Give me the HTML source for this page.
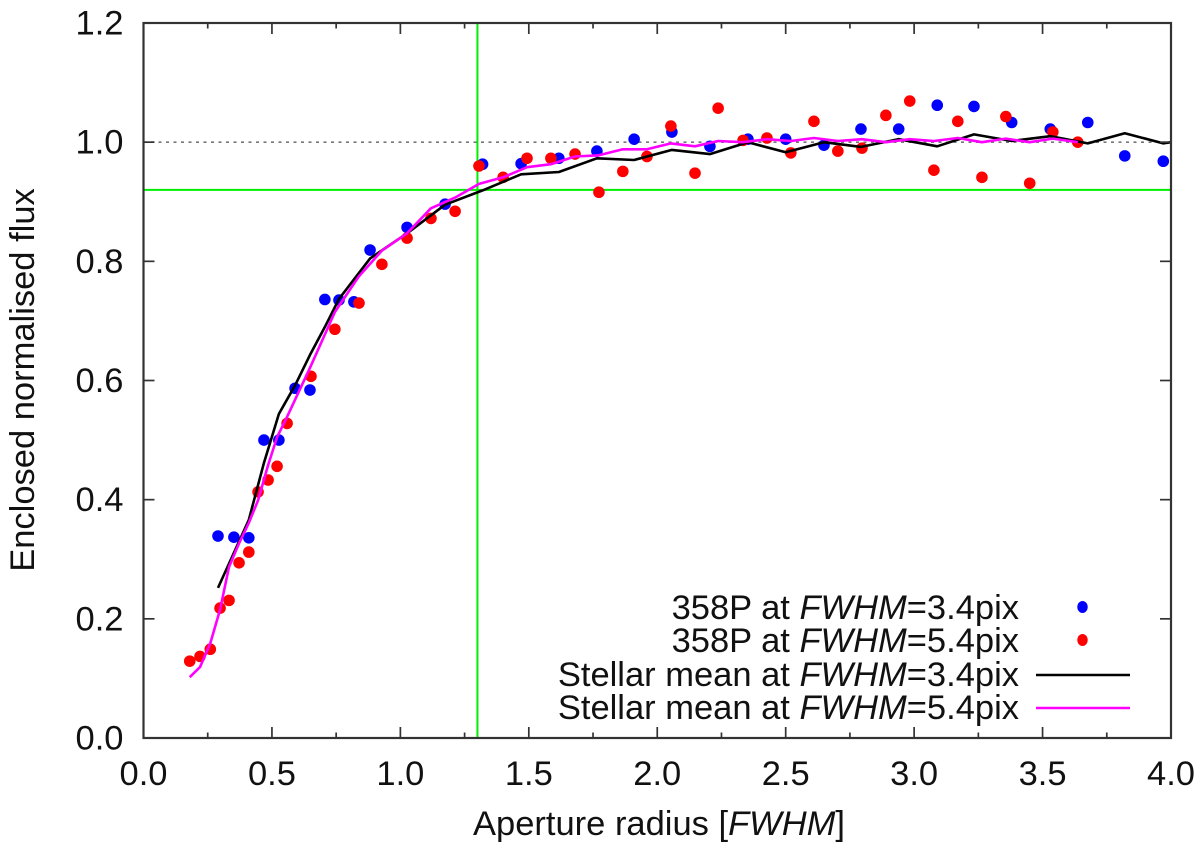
<!DOCTYPE html>
<html lang="en">
<head>
<meta charset="utf-8">
<title>Enclosed normalised flux</title>
<style>
html,body{margin:0;padding:0;background:#fff;width:1200px;height:848px;overflow:hidden}
svg{display:block}
text{font-family:"Liberation Sans",Arial,sans-serif;fill:#111}
</style>
</head>
<body>
<svg id="chart" xmlns="http://www.w3.org/2000/svg" width="1200" height="848" viewBox="0 0 1200 848">
  <rect width="1200" height="848" fill="#fff"/>
  <g id="guides"></g>
  <g id="series"></g>
  <g id="axes"></g>
  <text font-size="34.5" text-anchor="middle" transform="translate(34,380) rotate(-90)">Enclosed normalised flux</text>
  <text font-size="34.5" text-anchor="middle" transform="translate(659,835)">Aperture radius [<tspan font-style="italic">FWHM</tspan>]</text>
  <g>
    <g>
      <text font-size="34.5" text-anchor="end" transform="translate(1019,619)">358P at <tspan font-style="italic">FWHM</tspan>=3.4pix</text>
      <ellipse cx="1082.5" cy="607" rx="5.2" ry="6" fill="#0000ff"/>
    </g>
    <g>
      <text font-size="34.5" text-anchor="end" transform="translate(1019,652)">358P at <tspan font-style="italic">FWHM</tspan>=5.4pix</text>
      <ellipse cx="1082.5" cy="640" rx="5.2" ry="6" fill="#ff0000"/>
    </g>
    <g>
      <text font-size="34.5" text-anchor="end" transform="translate(1019,686)">Stellar mean at <tspan font-style="italic">FWHM</tspan>=3.4pix</text>
      <line x1="1036" x2="1130" y1="675" y2="675" stroke="#000" stroke-width="2.6"/>
    </g>
    <g>
      <text font-size="34.5" text-anchor="end" transform="translate(1019,719)">Stellar mean at <tspan font-style="italic">FWHM</tspan>=5.4pix</text>
      <line x1="1036" x2="1130" y1="708" y2="708" stroke="#ff00ff" stroke-width="2.6"/>
    </g>
  </g>
</svg>
<script>
const xTickLabels = ["0.0","0.5","1.0","1.5","2.0","2.5","3.0","3.5","4.0"];
const xTickValues = [0,0.5,1,1.5,2,2.5,3,3.5,4];
const xMinorValues = [0.25,0.75,1.25,1.75,2.25,2.75,3.25,3.75];
const yTickLabels = ["0.0","0.2","0.4","0.6","0.8","1.0","1.2"];
const yTickValues = [0,0.2,0.4,0.6,0.8,1,1.2];

const blueX = [0.29,0.352,0.41,0.469,0.527,0.59,0.648,0.706,0.761,0.819,0.882,1.026,1.174,1.32,1.47,1.617,1.765,1.91,2.057,2.205,2.353,2.5,2.649,2.793,2.94,3.09,3.233,3.38,3.53,3.676,3.82,3.97];
const blueY = [0.339,0.337,0.336,0.5,0.5,0.587,0.584,0.736,0.735,0.732,0.819,0.857,0.896,0.963,0.964,0.973,0.985,1.005,1.017,0.993,1.005,1.005,0.995,1.022,1.022,1.062,1.06,1.033,1.022,1.033,0.977,0.968];

const redX = [0.18,0.22,0.26,0.298,0.333,0.372,0.41,0.446,0.485,0.52,0.559,0.652,0.745,0.839,0.928,1.026,1.119,1.213,1.306,1.4,1.493,1.586,1.68,1.773,1.866,1.96,2.053,2.147,2.237,2.334,2.427,2.52,2.61,2.703,2.797,2.89,2.983,3.077,3.17,3.264,3.357,3.45,3.54,3.637];
const redY = [0.129,0.137,0.149,0.218,0.231,0.294,0.312,0.413,0.433,0.456,0.528,0.607,0.686,0.73,0.795,0.839,0.872,0.884,0.96,0.941,0.973,0.973,0.98,0.916,0.951,0.976,1.027,0.948,1.057,1.003,1.007,0.982,1.035,0.985,0.99,1.045,1.069,0.953,1.035,0.941,1.043,0.931,1.017,1.0];

const blackX = [0.29,0.41,0.469,0.527,0.59,0.648,0.706,0.761,0.882,1.026,1.174,1.32,1.47,1.617,1.765,1.91,2.057,2.205,2.353,2.5,2.649,2.793,2.94,3.09,3.233,3.38,3.53,3.676,3.82,3.97,4.0];
const blackY = [0.252,0.366,0.462,0.544,0.592,0.643,0.69,0.737,0.805,0.847,0.895,0.919,0.946,0.95,0.973,0.97,0.987,0.98,1.0,0.983,1.0,0.992,1.005,0.993,1.013,1.002,1.01,0.998,1.015,0.998,1.0];

const magentaX = [0.18,0.22,0.26,0.298,0.333,0.372,0.41,0.446,0.485,0.52,0.559,0.652,0.745,0.839,0.928,1.026,1.119,1.213,1.306,1.4,1.493,1.586,1.68,1.773,1.866,1.96,2.053,2.147,2.237,2.334,2.427,2.52,2.61,2.703,2.797,2.89,2.983,3.077,3.17,3.264,3.357,3.45,3.54,3.637];
const magentaY = [0.102,0.119,0.159,0.215,0.287,0.327,0.361,0.399,0.458,0.505,0.539,0.625,0.715,0.775,0.818,0.847,0.889,0.907,0.93,0.941,0.958,0.963,0.976,0.978,0.988,0.988,0.998,0.993,1.002,1.0,1.005,1.002,1.007,1.002,1.005,1.0,1.005,1.002,1.007,1.0,1.006,1.0,1.006,1.0];

const referenceX = 1.3;
const referenceY = 0.92;
const unityY = 1.0;

const plotLeft = 143.5, plotRight = 1171, plotTop = 23, plotBottom = 738;
const xMin = 0, xMax = 4, yMin = 0, yMax = 1.2;
function sx(v){ return plotLeft + (v - xMin) / (xMax - xMin) * (plotRight - plotLeft); }
function sy(v){ return plotBottom - (v - yMin) / (yMax - yMin) * (plotBottom - plotTop); }
const NS = "http://www.w3.org/2000/svg";
function mk(tag, parent, props){
  const el = document.createElementNS(NS, tag);
  for (const k in props) el.setAttribute(k, props[k]);
  parent.appendChild(el);
  return el;
}
const guides = document.getElementById("guides");
const series = document.getElementById("series");
const axes = document.getElementById("axes");

const gv = mk("line", guides, {x1:sx(referenceX),x2:sx(referenceX),y1:plotTop,y2:plotBottom,stroke:"#00ee00","stroke-width":2});


const gh = mk("line", guides, {x1:plotLeft,x2:plotRight,y1:sy(referenceY),y2:sy(referenceY),stroke:"#00ee00","stroke-width":2});


const gu = mk("line", guides, {x1:plotLeft,x2:plotRight,y1:sy(unityY),y2:sy(unityY),stroke:"#777","stroke-width":1.6,"stroke-dasharray":"3 4.5"});



function pathFrom(xs, ys){
  return xs.map((v,i)=>(i?"L":"M")+sx(v).toFixed(1)+" "+sy(ys[i]).toFixed(1)).join(" ");
}
blueX.forEach((v,i)=>{
  const c = mk("ellipse", series, {cx:sx(v),cy:sy(blueY[i]),rx:5.8,ry:5.8,fill:"#0000ff"});
  
  
});
redX.forEach((v,i)=>{
  const c = mk("ellipse", series, {cx:sx(v),cy:sy(redY[i]),rx:5.8,ry:5.8,fill:"#ff0000"});
  
  
});
const lb = mk("path", series, {d:pathFrom(blackX,blackY),fill:"none",stroke:"#000","stroke-width":2.6,"stroke-linejoin":"round"});


const lm = mk("path", series, {d:pathFrom(magentaX,magentaY),fill:"none",stroke:"#ff00ff","stroke-width":2.6,"stroke-linejoin":"round"});



const tickStroke = "#333";
xTickValues.forEach((v,i)=>{
  const t1 = mk("line", axes, {x1:sx(v),x2:sx(v),y1:plotBottom,y2:plotBottom-11,stroke:tickStroke,"stroke-width":1.7});
  
  
  const t2 = mk("line", axes, {x1:sx(v),x2:sx(v),y1:plotTop,y2:plotTop+11,stroke:tickStroke,"stroke-width":1.7});
  
  
  const lab = mk("text", axes, {"font-size":34.5,"text-anchor":"middle",transform:"translate("+sx(v)+",785)"});
  
  
  lab.textContent = xTickLabels[i];
});
xMinorValues.forEach((v)=>{
  const t1 = mk("line", axes, {x1:sx(v),x2:sx(v),y1:plotBottom,y2:plotBottom-5.5,stroke:tickStroke,"stroke-width":1.7});
  
  
  const t2 = mk("line", axes, {x1:sx(v),x2:sx(v),y1:plotTop,y2:plotTop+5.5,stroke:tickStroke,"stroke-width":1.7});
  
  
});
yTickValues.forEach((v,i)=>{
  const t1 = mk("line", axes, {x1:plotLeft,x2:plotLeft+11,y1:sy(v),y2:sy(v),stroke:tickStroke,"stroke-width":1.7});
  
  
  const t2 = mk("line", axes, {x1:plotRight,x2:plotRight-11,y1:sy(v),y2:sy(v),stroke:tickStroke,"stroke-width":1.7});
  
  
  const lab = mk("text", axes, {"font-size":34.5,"text-anchor":"end",transform:"translate(123.5,"+(sy(v)+11.5)+")"});
  
  
  lab.textContent = yTickLabels[i];
});
const frame = mk("rect", axes, {x:plotLeft,y:plotTop,width:plotRight-plotLeft,height:plotBottom-plotTop,fill:"none",stroke:"#333","stroke-width":2.2});


</script>
</body>
</html>
